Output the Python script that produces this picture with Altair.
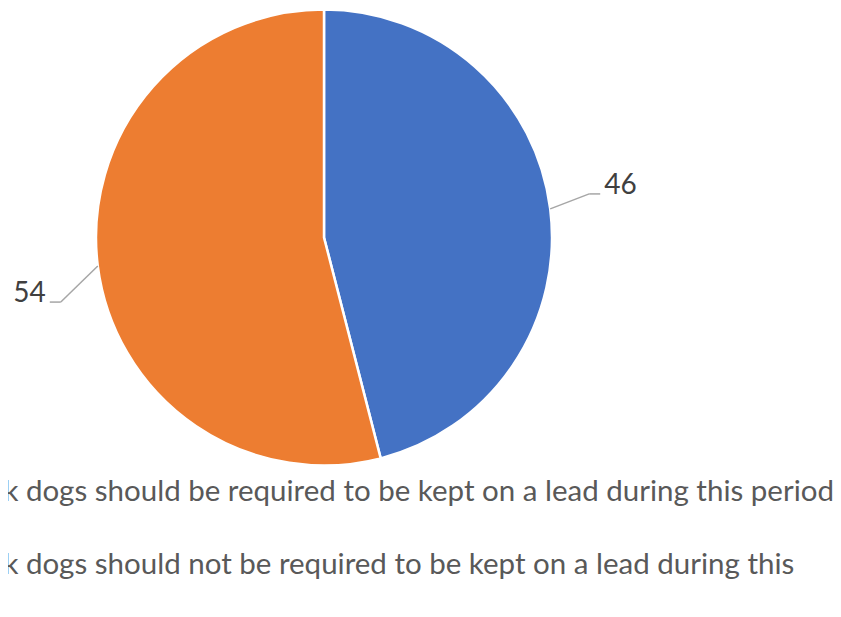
import altair as alt
import pandas as pd

categories = [
    "I think dogs should be required to be kept on a lead during this period",
    "I think dogs should not be required to be kept on a lead during this period",
]
legend_labels = [
    "I think dogs should be required to be kept on a lead during this period",
    "I think dogs should not be required to be kept on a lead during this",
]
values = [46, 54]
colors = ["#4472C4", "#ED7D31"]

df = pd.DataFrame({
    "category": categories,
    "legend": legend_labels,
    "value": values,
    "order": list(range(len(values))),
})

CX, CY, R = 316, 229.5, 228
FONT = "Lato"

base = alt.Chart(df)

arc = base.mark_arc(outerRadius=R, stroke="white", strokeWidth=2.5).encode(
    theta=alt.Theta("value:Q", stack=True),
    color=alt.Color("category:N", scale=alt.Scale(domain=categories, range=colors), legend=None),
    order=alt.Order("order:Q"),
    x=alt.value(CX),
    y=alt.value(CY),
)

geo = base.transform_joinaggregate(total="sum(value)").transform_window(
    cum="sum(value)", sort=[alt.SortField("order")], frame=[None, 0]
).transform_calculate(
    mid="(datum.cum - datum.value/2) / datum.total * 2 * PI"
).transform_calculate(
    ex=f"{CX} + {R} * sin(datum.mid)",
    ey=f"{CY} - {R} * cos(datum.mid)",
    side="sin(datum.mid) > 0 ? 1 : -1",
).transform_calculate(
    bx="datum.side > 0 ? datum.ex + 39 : datum.ex - 37",
    by="datum.side > 0 ? datum.ey - 15 : datum.ey + 36",
).transform_calculate(
    tx="datum.bx + datum.side * 11",
    lx="datum.bx + datum.side * 15",
)

leader1 = geo.mark_rule(color="#A6A6A6", strokeWidth=1.5).encode(
    x=alt.X("ex:Q", scale=None), y=alt.Y("ey:Q", scale=None),
    x2="bx:Q", y2="by:Q",
)
leader2 = geo.mark_rule(color="#A6A6A6", strokeWidth=1.5).encode(
    x=alt.X("bx:Q", scale=None), x2="tx:Q", y=alt.Y("by:Q", scale=None),
)
lab_right = geo.transform_filter("datum.side > 0").mark_text(
    align="left", baseline="alphabetic", font=FONT, fontSize=28, color="#404040"
).encode(x=alt.X("lx:Q", scale=None), y=alt.Y("by:Q", scale=None), text="value:Q")
lab_left = geo.transform_filter("datum.side < 0").mark_text(
    align="right", baseline="alphabetic", font=FONT, fontSize=28, color="#404040"
).encode(x=alt.X("lx:Q", scale=None), y=alt.Y("by:Q", scale=None), text="value:Q")

legend = base.transform_calculate(ly="493 + datum.order * 73").mark_text(
    align="left", baseline="alphabetic", font=FONT, fontSize=29.5, color="#595959"
).encode(x=alt.value(-71), y=alt.Y("ly:Q", scale=None), text="legend:N")

chart = alt.layer(arc, leader1, leader2, lab_right, lab_left, legend).properties(
    width=825, height=601, padding=0, autosize=alt.AutoSizeParams(type="none"),
    background="white",
).configure_view(stroke=None)

chart.save("out.html", embed_options={"renderer": "svg", "actions": False})
